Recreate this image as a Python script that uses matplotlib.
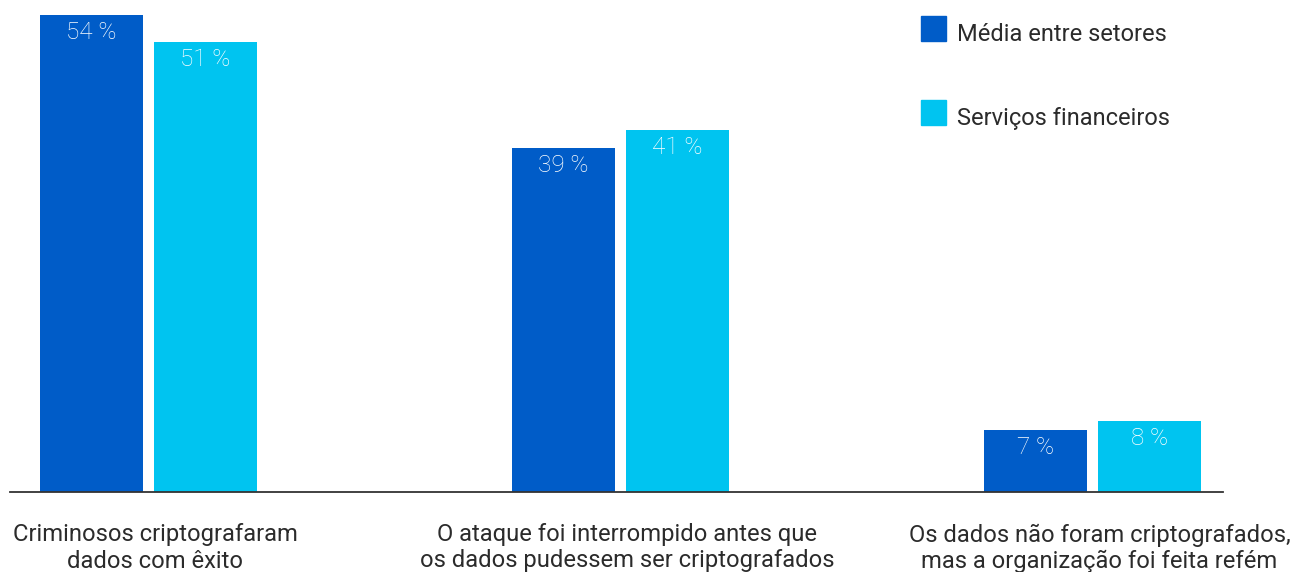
import matplotlib
matplotlib.use("Agg")
import matplotlib.pyplot as plt
import numpy as np
from matplotlib import transforms
from matplotlib.patches import Rectangle

plt.rcParams["font.family"] = ["Roboto", "DejaVu Sans"]

# Data
categories = [
    "Criminosos criptografaram\ndados com êxito",
    "O ataque foi interrompido antes que\nos dados pudessem ser criptografados",
    "Os dados não foram criptografados,\nmas a organização foi feita refém",
]
series_names = ["Média entre setores", "Serviços financeiros"]
media_setores = [54, 39, 7]
servicos_financeiros = [51, 41, 8]
colors = ["#005CC8", "#00C4F0"]

W, H = 1293, 572
DPI = 100
fig = plt.figure(figsize=(W / DPI, H / DPI), dpi=DPI)
fig.patch.set_facecolor("white")

# Axes geometry (pixels)
base_px = 492          # baseline from top
px_per_pct = 8.83
ymax = 54
left_px, right_px = 10, 1223
ax = fig.add_axes([left_px / W, (H - base_px) / H,
                   (right_px - left_px) / W, ymax * px_per_pct / H])

group_px = 472.25
first_center = 148
x = np.arange(len(categories))
bar_w = 103 / group_px
offset = 57 / group_px
ax.set_xlim((left_px - first_center) / group_px, (right_px - first_center) / group_px)
ax.set_ylim(0, ymax)

for vals, off, col in zip([media_setores, servicos_financeiros], [-offset, offset], colors):
    bars = ax.bar(x + off, vals, width=bar_w, color=col, clip_on=False, zorder=2)
    for b, v in zip(bars, vals):
        ax.annotate(f"{v} %", (b.get_x() + b.get_width() / 2, v),
                    xytext=(0, -17.5 * 0.72), textcoords="offset points",
                    ha="center", va="center", color="white",
                    fontsize=17.5, fontweight="light", zorder=3)

for s in ["top", "left", "right"]:
    ax.spines[s].set_visible(False)
ax.spines["bottom"].set_color("#333333")
ax.spines["bottom"].set_linewidth(1.3)
ax.set_xticks([])
ax.set_yticks([])
ax.patch.set_alpha(0)

# Category labels below the axis
trans = transforms.blended_transform_factory(ax.transData, fig.transFigure)
line_y = [535, 561]
for xi, cat in zip(x, categories):
    for ly, line in zip(line_y, cat.split("\n")):
        ax.text(xi + 7 / group_px, 1 - ly / H, line, transform=trans,
                ha="center", va="center", fontsize=17.1, color="#2b2b2b",
                clip_on=False)

# Legend: square swatches with labels whose baseline sits on the swatch bottom
sw = 25
for i, (name, col) in enumerate(zip(series_names, colors)):
    top = 16 + i * 84
    fig.patches.append(Rectangle((921 / W, 1 - (top + sw) / H), sw / W, sw / H,
                                 transform=fig.transFigure, color=col))
    fig.text(957 / W, 1 - (top + sw) / H, name, ha="left", va="baseline",
             fontsize=17, color="#2b2b2b")

fig.savefig("out.png", dpi=DPI)
